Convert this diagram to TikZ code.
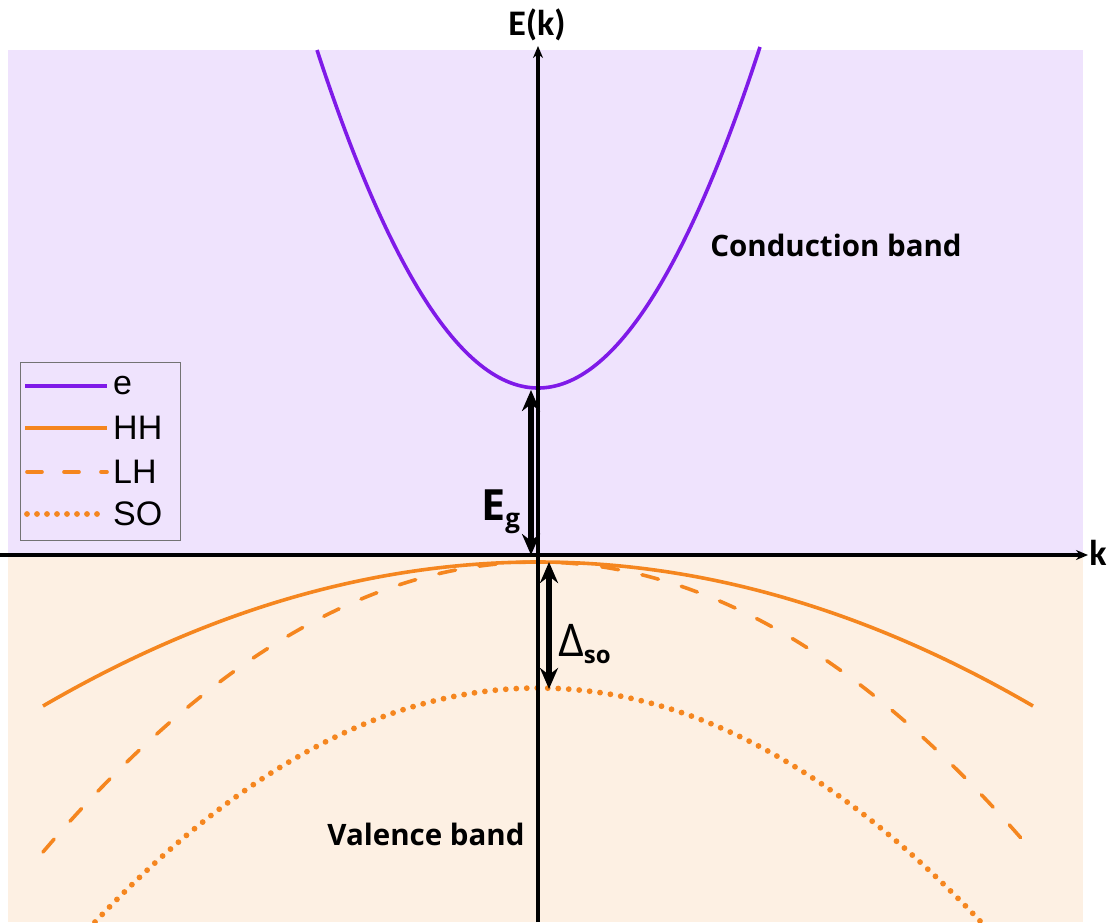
\documentclass[tikz,border=0pt]{standalone}
\usepackage{fontspec}
\setmainfont{Open Sans}
\newfontfamily\legfont{Liberation Sans}
\newfontfamily\axfont{Carlito}
\usetikzlibrary{arrows.meta}
\definecolor{cbg}{HTML}{EFE3FD}
\definecolor{vbg}{HTML}{FDF0E3}
\definecolor{epur}{HTML}{7F1AE8}
\definecolor{hor}{HTML}{F5861F}
\tikzset{
  band/.style={line width=3.6pt},
  ecurve/.style={band, draw=epur},
  hcurve/.style={band, draw=hor},
  lhcurve/.style={band, draw=hor, dash pattern=on 17pt off 24pt, line cap=round},
  socurve/.style={draw=hor, dash pattern=on 0pt off 10.5pt, line cap=round, line width=5.8pt},
  axis/.style={line width=3.4pt, -{Stealth[length=12pt,width=10pt]}},
  gaparrow/.style={line width=5.5pt, {Stealth[length=21pt,width=18pt]}-{Stealth[length=21pt,width=18pt]}},
  lbl/.style={font=\bfseries\fontsize{29.5}{32}\selectfont, inner sep=0pt},
  axlbl/.style={font=\axfont\bfseries\fontsize{36}{40}\selectfont, inner sep=0pt},
  leg/.style={font=\legfont\fontsize{34}{36}\selectfont, anchor=west, inner sep=0pt}
}
\begin{document}
\begin{tikzpicture}[x=1pt,y=-1pt]
\useasboundingbox (0,0) rectangle (1107,922);
\fill[cbg] (8,50) rectangle (1083,555);
\fill[vbg] (8,555) rectangle (1083,922);
% bands
\draw[ecurve] plot[domain=-221:222,samples=120,smooth] ({538+\x},{388-338*(\x/221)^2});
\draw[hcurve] plot[domain=-495:495,samples=120,smooth] ({538+\x},{562+144*(\x/495)^2});
\draw[lhcurve] plot[domain=-495:484,samples=120,smooth] ({538+\x},{562+290*(\x/495)^2});
\draw[socurve] plot[domain=-443:443,samples=120,smooth] ({538+\x},{688+234*(\x/443)^2});
% axes
\coordinate (ybot) at (538,922);
\coordinate (ytop) at (538,46);
\coordinate (xl) at (0,555);
\coordinate (xr) at (1088,555);
\draw[axis] (ybot) -- (ytop);
\draw[axis] (xl) -- (xr);
\node[axlbl] (Ek) at (537,25) {E(k)};
\node[axlbl] (k) at (1098,553) {k};
% gaps
\coordinate (egb) at (531,555);
\coordinate (egt) at (531,390);
\draw[gaparrow] (egb) -- (egt);
\node[inner sep=0pt, anchor=base west] (Eg) at (481,520) {\bfseries\fontsize{43}{45}\selectfont E\raisebox{-7pt}{\fontsize{26}{28}\selectfont g}};
\coordinate (sot) at (549,562);
\coordinate (sob) at (549,689);
\draw[gaparrow] (sot) -- (sob);
\node[inner sep=0pt, anchor=base west] (Dso) at (558,656) {\fontsize{45}{47}\selectfont Δ\raisebox{-7pt}{\bfseries\fontsize{24}{26}\selectfont so}};
% band labels
\node[lbl] (cb) at (836,245) {Conduction band};
\node[lbl] (vb) at (426,834) {Valence band};
% legend
\node[draw=black!55, line width=0.8pt, minimum width=160pt, minimum height=178pt, inner sep=0pt, anchor=north west] (legbox) at (20,362) {};
\coordinate (l1a) at (25,386); \coordinate (l1b) at (107,386);
\coordinate (l2a) at (25,428); \coordinate (l2b) at (107,428);
\coordinate (l3a) at (27,472); \coordinate (l3b) at (107,472);
\coordinate (l4a) at (27,514); \coordinate (l4b) at (107,514);
\draw[ecurve] (l1a) -- (l1b);
\draw[hcurve] (l2a) -- (l2b);
\draw[band, draw=hor, dash pattern=on 15pt off 22pt, line cap=round] (l3a) -- (l3b);
\draw[draw=hor, dash pattern=on 0pt off 10pt, line cap=round, line width=5.8pt] (l4a) -- (l4b);
\node[leg] (le) at (113,386) {e};
\node[leg] (lhh) at (113,428) {HH};
\node[leg] (llh) at (113,472) {LH};
\node[leg] (lso) at (113,514) {SO};
\end{tikzpicture}
\end{document}
